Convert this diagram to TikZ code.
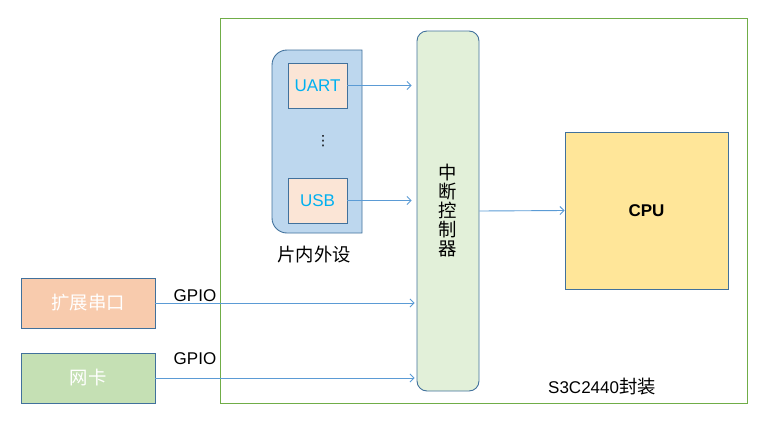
\documentclass[tikz,border=0pt]{standalone}
\usepackage{fontspec}
\setmainfont{Liberation Sans}
\newfontfamily\cjk[Scale=1.08]{Noto Sans CJK SC}
\newfontfamily\symb{DejaVu Sans}
\usetikzlibrary{arrows.meta}
\definecolor{rahmenblau}{HTML}{41719C}
\definecolor{pfeilblau}{HTML}{5B9BD5}
\definecolor{paketgruen}{HTML}{70AD47}
\definecolor{gruppeblau}{HTML}{BDD7EE}
\definecolor{hellorange}{HTML}{FBE5D6}
\definecolor{orange}{HTML}{F8CBAD}
\definecolor{hellgruen}{HTML}{E2F0D9}
\definecolor{gruen}{HTML}{C5E0B4}
\definecolor{gelb}{HTML}{FFE699}
\definecolor{cyantext}{HTML}{00B0F0}
\begin{document}
\begin{tikzpicture}[x=1pt,y=-1pt]
\tikzset{kasten/.style={draw=rahmenblau, line width=0.9pt, inner sep=0pt, font=\fontsize{17}{19}\selectfont},
  pfeil/.style={draw=pfeilblau, line width=0.9pt, -{Straight Barb[length=4pt,width=8pt]}},
  schrift/.style={font=\fontsize{17}{19}\selectfont, inner sep=0pt}}
\useasboundingbox (0,0) rectangle (769,445);
\node[draw=paketgruen, line width=0.9pt, minimum width=527, minimum height=385] (pkg) at (483.5,210.5) {};
\node[schrift] (pkglabel) at (602,387) {S3C2440{\cjk 封装}};
\draw[draw=rahmenblau, fill=gruppeblau, line width=0.9pt] (362,233) -- (362,50) -- (317,50) [rounded corners=15] -- (272,50) -- (272,233) -- (317,233) [sharp corners] -- cycle;
\node[kasten, fill=hellorange, text=cyantext, minimum width=59, minimum height=45] (uart) at (317.5,85.5) {UART};
\node[schrift, font=\symb\fontsize{14}{16}\selectfont] (dots) at (323,141) {⋮};
\node[kasten, fill=hellorange, text=cyantext, minimum width=59, minimum height=45] (usb) at (317.5,200.5) {USB};
\node[schrift] (periphlabel) at (314,255) {\cjk 片内外设};
\node[kasten, fill=hellgruen, rounded corners=10, minimum width=62, minimum height=360, align=center] (ctrl) at (448,211) {\cjk 中\\\cjk 断\\\cjk 控\\\cjk 制\\\cjk 器};
\node[kasten, fill=gelb, minimum width=163, minimum height=157, font=\fontsize{17}{19}\selectfont\bfseries] (cpu) at (646.5,210.5) {CPU};
\node[kasten, fill=orange, text=white, minimum width=134, minimum height=50] (ext) at (88,303) {\cjk 扩展串口};
\node[kasten, fill=gruen, text=white, minimum width=134, minimum height=50] (nic) at (88,378) {\cjk 网卡};
\node[schrift] (gpioA) at (195,296) {GPIO};
\node[schrift] (gpioB) at (195,359) {GPIO};
\draw[pfeil, shorten >=5pt] (uart.east) -- (uart.east -| ctrl.west);
\draw[pfeil, shorten >=5pt] (usb.east) -- (usb.east -| ctrl.west);
\draw[pfeil] (ctrl.east) -- (cpu.west);
\draw[pfeil, shorten >=2pt] (ext.east) -- (ext.east -| ctrl.west);
\draw[pfeil, shorten >=2pt] (nic.east) -- (nic.east -| ctrl.west);
\end{tikzpicture}
\end{document}
